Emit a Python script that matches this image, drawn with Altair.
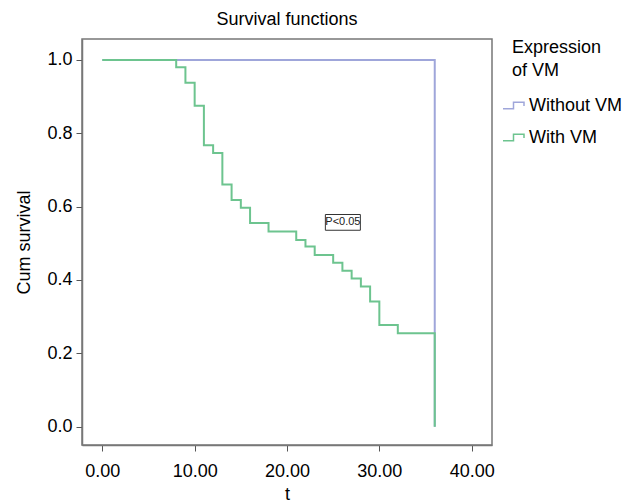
import altair as alt
import pandas as pd

# Survival data (Kaplan-Meier step points)
t_without = [0, 36]
s_without = [1.0, 0.0]

t_with = [0, 8, 9, 10, 11, 12, 13, 14, 15, 16, 18, 21, 22, 23, 25, 26, 27, 28, 29, 30, 32, 36]
s_with = [1.0, 0.980, 0.938, 0.875, 0.767, 0.746, 0.660, 0.618, 0.597, 0.555, 0.532,
          0.509, 0.491, 0.468, 0.447, 0.425, 0.404, 0.382, 0.341, 0.277, 0.255, 0.0]

groups = ["Without VM", "With VM"]
colors = ["#9fa6da", "#6dc48f"]

x_ticks = [0, 10, 20, 30, 40]
y_ticks = [0.0, 0.2, 0.4, 0.6, 0.8, 1.0]

annot_text = ["P<0.05"]
annot_t = [26.05]
annot_s = [0.557]

df_without = pd.DataFrame({"t": t_without, "s": s_without, "group": groups[0]})
df_with = pd.DataFrame({"t": t_with, "s": s_with, "group": groups[1]})
df_annot = pd.DataFrame({"t": annot_t, "s": annot_s, "label": annot_text})

FONT = "Liberation Sans"

x_enc = alt.X("t:Q", scale=alt.Scale(domain=[-2.2, 42.2], nice=False, zero=False),
              axis=alt.Axis(title="t", values=x_ticks, format=".2f", grid=False))
y_enc = alt.Y("s:Q", scale=alt.Scale(domain=[-0.05, 1.057], nice=False, zero=False),
              axis=alt.Axis(title="Cum survival", values=y_ticks, format=".1f", grid=False))
color_enc = alt.Color(
    "group:N",
    scale=alt.Scale(domain=groups, range=colors),
    legend=alt.Legend(
        title=["Expression", "of VM"],
        orient="none", legendX=430, legendY=0,
        symbolType="M-1,0.3L0,0.3L0,-0.3L1,-0.3L1,0.05",
        symbolSize=441, symbolStrokeWidth=1.5, symbolOffset=-10,
        labelFontSize=18, titleFontSize=18, titleFontWeight="normal",
        titleLineHeight=23, rowPadding=11, titlePadding=14,
        labelFont=FONT, titleFont=FONT, labelColor="black", titleColor="black",
    ),
)

line_without = alt.Chart(df_without).mark_line(interpolate="step-after", strokeWidth=2).encode(
    x=x_enc, y=y_enc, color=color_enc)
line_with = alt.Chart(df_with).mark_line(interpolate="step-after", strokeWidth=2).encode(
    x=x_enc, y=y_enc, color=color_enc)

box = alt.Chart(df_annot).mark_point(
    shape="M-1,-0.45L1,-0.45L1,0.45L-1,0.45Z", size=1224, filled=False,
    stroke="#333333", strokeWidth=1, opacity=1).encode(x="t:Q", y="s:Q")
label = alt.Chart(df_annot).mark_text(fontSize=11, font=FONT, color="#222222").encode(
    x="t:Q", y="s:Q", text="label:N")

chart = alt.layer(line_without, line_with, box, label).properties(
    width=410, height=406,
    title=alt.TitleParams("Survival functions", fontSize=18, font=FONT, fontWeight="normal",
                          color="black", offset=10),
    autosize=alt.AutoSizeParams(type="none"),
    padding={"left": 74, "top": 31, "right": 130, "bottom": 58},
).configure_view(stroke="#777777", strokeWidth=1.5).configure_axis(
    domainColor="#777777", domainWidth=1.5, tickColor="#555555", tickSize=6,
    labelFont=FONT, titleFont=FONT, labelFontSize=18, titleFontSize=18,
    titleFontWeight="normal", labelColor="black", titleColor="black",
).configure_axisX(labelPadding=11, titlePadding=5).configure_axisY(labelPadding=4, titlePadding=13)

chart.save("out.html", embed_options={"renderer": "svg", "actions": False})
